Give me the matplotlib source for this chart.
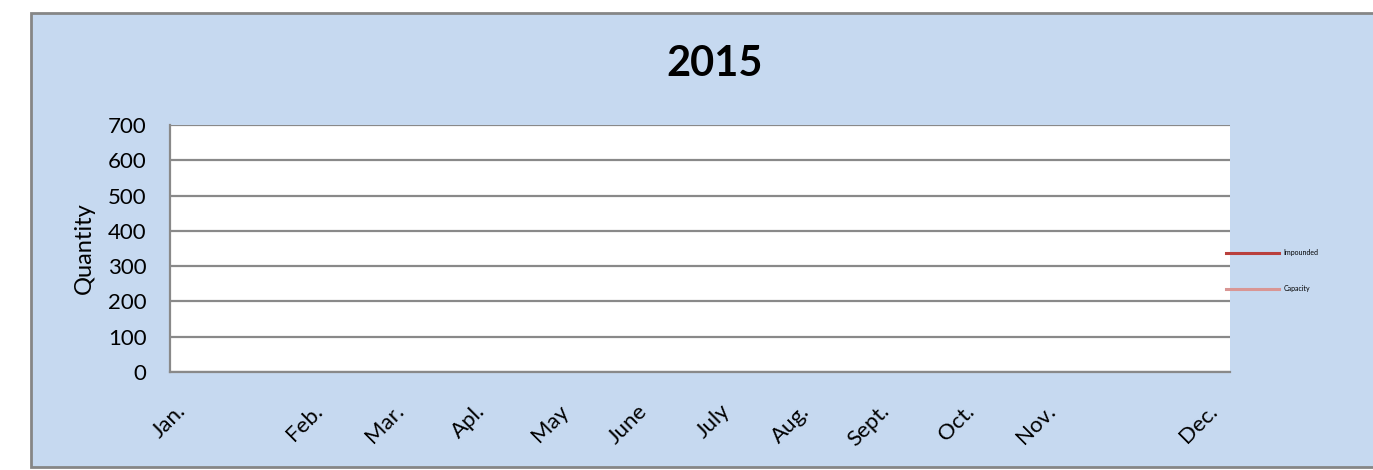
import matplotlib
import matplotlib.pyplot as plt
from matplotlib.patches import Rectangle

matplotlib.use("Agg")  # headless plotting

plt.rcParams["font.family"] = ["Lato", "DejaVu Sans"]

############
#          #
#   Data   #
#          #
############

title = "2015"
months = ["Jan.", "Feb.", "Mar.", "Apl.", "May", "June",
          "July", "Aug.", "Sept.", "Oct.", "Nov.", "Dec."]
# positions of the month labels along the axis (uneven as in the original)
month_pos = [0.0, 1.68, 2.69, 3.69, 4.72, 5.70,
             6.72, 7.70, 8.69, 9.74, 10.74, 12.74]

# both series are empty in the source chart
impounded_x, impounded = [], []
capacity_x, capacity = [], []

y_ticks = [0, 100, 200, 300, 400, 500, 600, 700]

############
#          #
# Plotting #
#          #
############

W, H = 1373, 470
fig = plt.figure(figsize=(W / 100, H / 100), dpi=100)
fig.patch.set_facecolor("white")

# light blue chart area with grey border
fig.patches.append(Rectangle((31 / W, 1 - 467 / H), (1400 - 31) / W, (467 - 13) / H,
                             transform=fig.transFigure, facecolor="#c6d9f0",
                             edgecolor="#868686", linewidth=2.0, zorder=-5))

ax = fig.add_axes([170 / W, 1 - 372 / H, 1060 / W, (372 - 125) / H])
ax.set_facecolor("white")

l1, = ax.plot(impounded_x, impounded, color="#b9403d", linewidth=2.2, label="Impounded")
l2, = ax.plot(capacity_x, capacity, color="#d99694", linewidth=2.2, label="Capacity")

ax.set_ylim(0, 700)
ax.set_yticks(y_ticks)
ax.set_xlim(-0.16, 12.93)
ax.set_xticks(month_pos)
ax.set_xticklabels(months, rotation=45, ha="right", va="center",
                   rotation_mode="anchor", fontsize=16)
ax.tick_params(axis="y", length=0, pad=17, labelsize=16)
ax.tick_params(axis="x", length=0, pad=26)

ax.grid(axis="y", color="#898989", linewidth=1.6)
ax.set_axisbelow(True)
for side in ["top", "right"]:
    ax.spines[side].set_visible(False)
for side in ["left", "bottom"]:
    ax.spines[side].set_color("#898989")
    ax.spines[side].set_linewidth(1.6)

ax.set_ylabel("Quantity", fontsize=17, labelpad=9)

fig.text(715 / W, 1 - 64 / H, title, ha="center", va="center",
         fontsize=30, fontweight="bold")

fig.legend(handles=[l1, l2], loc="upper left", frameon=False,
           bbox_to_anchor=(1226 / W, 1 - 249 / H), borderaxespad=0, borderpad=0,
           fontsize=5, handlelength=7.6, handletextpad=0.7, labelspacing=4.2)

fig.savefig("out.png", dpi=100)
